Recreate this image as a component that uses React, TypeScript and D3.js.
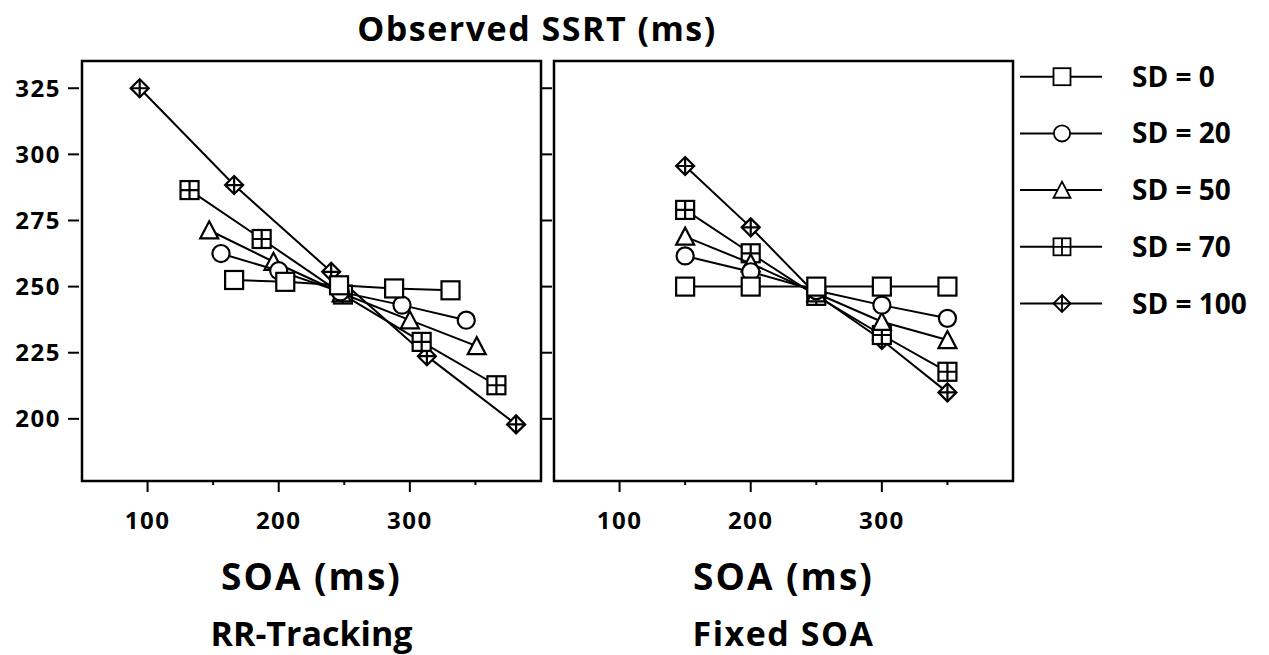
import React, { useRef, useEffect } from 'react';
import * as d3 from 'd3';

// SOA values (ms) per SD condition
const SD_LABELS = ['SD = 0', 'SD = 20', 'SD = 50', 'SD = 70', 'SD = 100'];
const SD_SHAPES = ['square', 'circle', 'triangle', 'squareCross', 'diamondCross'];

// RR-Tracking panel: observed SOA (x) and SSRT (y)
const TRACK_SOA = [
  [166, 205, 246, 288, 331],
  [156, 200, 247, 294, 343],
  [147, 196, 248, 300, 351],
  [132, 187, 249, 309, 366],
  [94, 166, 240, 313, 381],
];
const TRACK_SSRT = [
  [252.5, 251.8, 250.5, 249.3, 248.6],
  [262.5, 256.0, 248.0, 243.0, 237.3],
  [271.3, 259.4, 247.5, 237.3, 227.5],
  [286.5, 268.0, 247.0, 229.1, 212.7],
  [325.0, 288.4, 255.6, 223.7, 197.9],
];

// Fixed SOA panel
const FIXED_SOA = [150, 200, 250, 300, 350];
const FIXED_SSRT = [
  [250.0, 250.0, 250.0, 250.0, 250.0],
  [261.6, 255.6, 248.5, 243.0, 238.0],
  [268.9, 258.8, 247.5, 236.7, 229.8],
  [279.0, 262.6, 246.5, 231.7, 217.8],
  [295.6, 272.4, 247.0, 229.8, 210.0],
];

const Y_TICKS = [200, 225, 250, 275, 300, 325];
const X_TICKS = [100, 200, 300];
const X_MINOR = [150, 250, 350];

const FONT = '"Open Sans", sans-serif';

function drawMarker(g, shape, x, y, s, sw) {
  const h = s / 2;
  const m = g.append('g').attr('transform', `translate(${x},${y})`)
    .attr('fill', 'white').attr('stroke', 'black').attr('stroke-width', sw);
  if (shape === 'square' || shape === 'squareCross') {
    m.append('rect').attr('x', -h).attr('y', -h).attr('width', s).attr('height', s);
    if (shape === 'squareCross') {
      m.append('path').attr('d', `M${-h},0H${h}M0,${-h}V${h}`);
    }
  } else if (shape === 'circle') {
    m.append('circle').attr('r', h * 0.95);
  } else if (shape === 'triangle') {
    m.append('path').attr('d', `M0,${-h}L${h},${h * 0.9}L${-h},${h * 0.9}Z`);
  } else {
    m.append('path').attr('d', `M0,${-h}L${h},0L0,${h}L${-h},0Z`);
    m.append('path').attr('d', `M${-h},0H${h}M0,${-h}V${h}`);
  }
}

function App() {
  const svgRef = useRef();

  useEffect(() => {
    document.body.style.margin = '0';
    const svg = d3.select(svgRef.current);
    svg.selectAll('*').remove();

    const top = 61, bottom = 481;
    const y = d3.scaleLinear().domain([176.5, 335.3]).range([bottom, top]);

    const panels = [
      { x0: 82, x1: 541, xs: TRACK_SOA, ys: TRACK_SSRT, leftTicks: true, rightTicks: true, t1: 'SOA (ms)', t2: 'RR-Tracking', ls2: 0 },
      { x0: 554, x1: 1013, xs: FIXED_SSRT.map(() => FIXED_SOA), ys: FIXED_SSRT, leftTicks: false, rightTicks: false, t1: 'SOA (ms)', t2: 'Fixed SOA', ls2: 1.5 },
    ];

    panels.forEach(p => {
      const x = d3.scaleLinear().domain([50, 400]).range([p.x0, p.x1]);
      const g = svg.append('g');

      // frame
      g.append('rect')
        .attr('x', p.x0).attr('y', top)
        .attr('width', p.x1 - p.x0).attr('height', bottom - top)
        .attr('fill', 'white').attr('stroke', 'black').attr('stroke-width', 2.5);

      // x ticks
      X_TICKS.forEach(t => {
        g.append('line').attr('x1', x(t)).attr('x2', x(t))
          .attr('y1', bottom).attr('y2', bottom + 11)
          .attr('stroke', 'black').attr('stroke-width', 2);
        g.append('text').attr('x', x(t)).attr('y', bottom + 48)
          .attr('text-anchor', 'middle')
          .attr('font-family', FONT).attr('font-weight', 700)
          .attr('font-size', 24).attr('letter-spacing', 1.5)
          .text(t);
      });
      X_MINOR.forEach(t => {
        g.append('line').attr('x1', x(t)).attr('x2', x(t))
          .attr('y1', bottom).attr('y2', bottom + 4)
          .attr('stroke', 'black').attr('stroke-width', 2);
      });

      // y ticks
      Y_TICKS.forEach(t => {
        if (p.leftTicks) {
          g.append('line').attr('x1', p.x0 - 14).attr('x2', p.x0 - 3)
            .attr('y1', y(t)).attr('y2', y(t))
            .attr('stroke', 'black').attr('stroke-width', 2);
          g.append('text').attr('x', p.x0 - 21).attr('y', y(t) + 8.5)
            .attr('text-anchor', 'end')
            .attr('font-family', FONT).attr('font-weight', 700)
            .attr('font-size', 24).attr('letter-spacing', 1.5)
            .text(t);
        }
        if (p.rightTicks) {
          g.append('line').attr('x1', p.x1).attr('x2', p.x1 + 11)
            .attr('y1', y(t)).attr('y2', y(t))
            .attr('stroke', 'black').attr('stroke-width', 2);
        }
      });

      // series, drawn from SD = 100 down to SD = 0
      for (let i = SD_LABELS.length - 1; i >= 0; i--) {
        const pts = p.xs[i].map((v, j) => [x(v), y(p.ys[i][j])]);
        g.append('path')
          .attr('d', d3.line()(pts))
          .attr('fill', 'none').attr('stroke', 'black').attr('stroke-width', 2);
        pts.forEach(([px, py]) => drawMarker(g, SD_SHAPES[i], px, py, 18, 2.2));
      }

      const cx = (p.x0 + p.x1) / 2;
      g.append('text').attr('x', cx).attr('y', 590)
        .attr('text-anchor', 'middle')
        .attr('font-family', FONT).attr('font-weight', 700).attr('font-size', 37)
        .attr('letter-spacing', 2)
        .text(p.t1);
      g.append('text').attr('x', cx).attr('y', 646)
        .attr('text-anchor', 'middle')
        .attr('font-family', FONT).attr('font-weight', 700).attr('font-size', 34)
        .attr('letter-spacing', p.ls2)
        .text(p.t2);
    });

    // title
    svg.append('text').attr('x', 537).attr('y', 41)
      .attr('text-anchor', 'middle')
      .attr('font-family', FONT).attr('font-weight', 700).attr('font-size', 34)
      .attr('letter-spacing', 1.5)
      .text('Observed SSRT (ms)');

    // legend
    const legend = svg.append('g');
    SD_LABELS.forEach((lab, i) => {
      const ly = 76.7 + i * 56.7;
      legend.append('line').attr('x1', 1020).attr('x2', 1102)
        .attr('y1', ly).attr('y2', ly)
        .attr('stroke', 'black').attr('stroke-width', 2);
      drawMarker(legend, SD_SHAPES[i], 1062, ly, 17, 1.8);
      legend.append('text').attr('x', 1132).attr('y', ly + 10)
        .attr('font-family', FONT).attr('font-weight', 700).attr('font-size', 28)
        .text(lab);
    });
  }, []);

  return <svg ref={svgRef} width={1269} height={655} style={{ display: 'block', background: 'white' }}></svg>;
}

export default App;
